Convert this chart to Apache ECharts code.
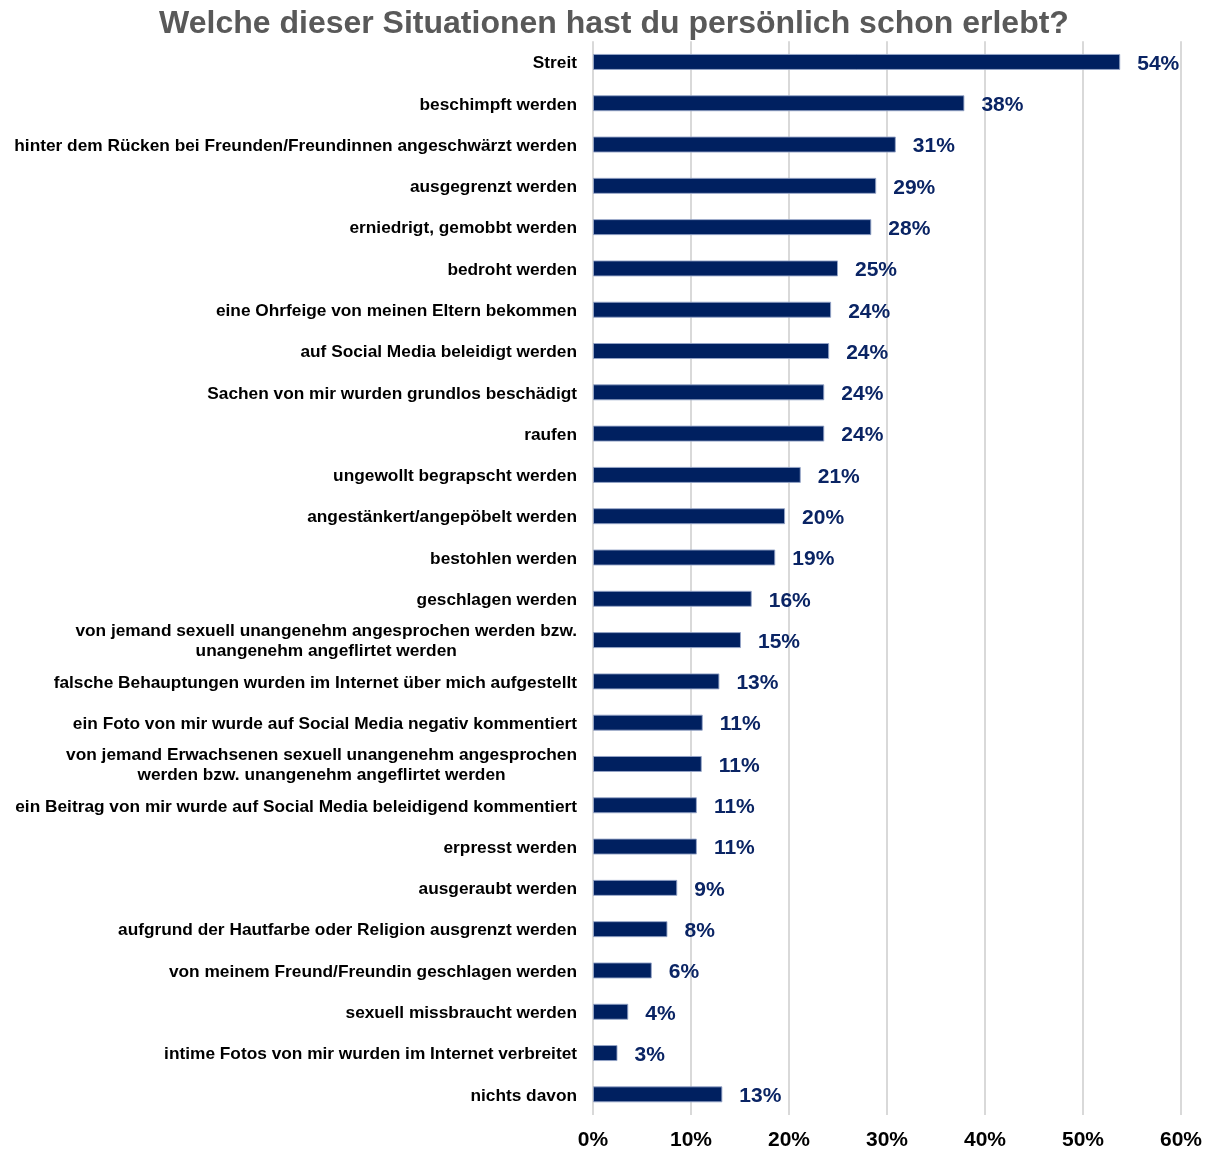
<!DOCTYPE html>
<html>
<head>
<meta charset="utf-8">
<script src="https://cdn.jsdelivr.net/npm/echarts@6/dist/echarts.min.js"></script>
<style>
html,body{margin:0;padding:0;background:#fff;}
#chart{width:1208px;height:1151px;}
</style>
</head>
<body>
<div id="chart"></div>
<script>
const titleText = 'Welche dieser Situationen hast du persönlich schon erlebt?';
const categories = [
  'Streit',
  'beschimpft werden',
  'hinter dem Rücken bei Freunden/Freundinnen angeschwärzt werden',
  'ausgegrenzt werden',
  'erniedrigt, gemobbt werden',
  'bedroht werden',
  'eine Ohrfeige von meinen Eltern bekommen',
  'auf Social Media beleidigt werden',
  'Sachen von mir wurden grundlos beschädigt',
  'raufen',
  'ungewollt begrapscht werden',
  'angestänkert/angepöbelt werden',
  'bestohlen werden',
  'geschlagen werden',
  'von jemand sexuell unangenehm angesprochen werden bzw.\nunangenehm angeflirtet werden',
  'falsche Behauptungen wurden im Internet über mich aufgestellt',
  'ein Foto von mir wurde auf Social Media negativ kommentiert',
  'von jemand Erwachsenen sexuell unangenehm angesprochen\nwerden bzw. unangenehm angeflirtet werden',
  'ein Beitrag von mir wurde auf Social Media beleidigend kommentiert',
  'erpresst werden',
  'ausgeraubt werden',
  'aufgrund der Hautfarbe oder Religion ausgrenzt werden',
  'von meinem Freund/Freundin geschlagen werden',
  'sexuell missbraucht werden',
  'intime Fotos von mir wurden im Internet verbreitet',
  'nichts davon'
];
const values = [
  53.8, 37.9, 30.9, 28.9, 28.4, 25.0, 24.3, 24.1, 23.6, 23.6,
  21.2, 19.6, 18.6, 16.2, 15.1, 12.9, 11.2, 11.1, 10.6, 10.6,
  8.6, 7.6, 6.0, 3.6, 2.5, 13.2
];
const xTicks = { min: 0, max: 60, interval: 10 };

const FONT = '"Liberation Sans", Arial, sans-serif';
const chart = echarts.init(document.getElementById('chart'));
chart.setOption({
  backgroundColor: '#ffffff',
  animation: false,
  title: {
    text: titleText,
    left: 609,
    textAlign: 'center',
    top: 3,
    textStyle: { fontFamily: FONT, fontSize: 32, fontWeight: 'bold', color: '#595959' }
  },
  grid: { left: 593, right: 27, top: 41.3, bottom: 34, containLabel: false },
  xAxis: {
    type: 'value',
    min: xTicks.min, max: xTicks.max, interval: xTicks.interval,
    axisLine: { show: false },
    axisTick: { show: false },
    splitLine: { show: true, lineStyle: { color: '#d9d9d9', width: 2 } },
    axisLabel: {
      formatter: '{value}%',
      fontFamily: FONT, fontSize: 21, fontWeight: 'bold', color: '#000',
      margin: 15
    }
  },
  yAxis: {
    type: 'category',
    data: categories,
    inverse: true,
    axisLine: { show: false },
    axisTick: { show: false },
    axisLabel: {
      margin: 16,
      padding: [3, 0, 0, 0],
      fontFamily: FONT, fontSize: 17.3, fontWeight: 'bold', color: '#000',
      lineHeight: 20,
      formatter: function (v) {
        if (v.indexOf('\n') < 0) return v;
        return v.split('\n').map(function (s) { return '{c|' + s + '}'; }).join('\n');
      },
      rich: {
        c: { fontFamily: FONT, fontSize: 17.3, fontWeight: 'bold', color: '#000', lineHeight: 20, align: 'center' }
      }
    }
  },
  series: [{
    type: 'bar',
    data: values,
    barWidth: 16,
    itemStyle: { color: '#002060', borderColor: 'rgba(150,165,200,0.9)', borderWidth: 1 },
    label: {
      show: true,
      position: 'right',
      distance: 17,
      offset: [0, 2],
      formatter: function (p) { return Math.round(p.value) + '%'; },
      fontFamily: FONT, fontSize: 21, fontWeight: 'bold', color: '#0a2464'
    }
  }]
});
</script>
</body>
</html>
